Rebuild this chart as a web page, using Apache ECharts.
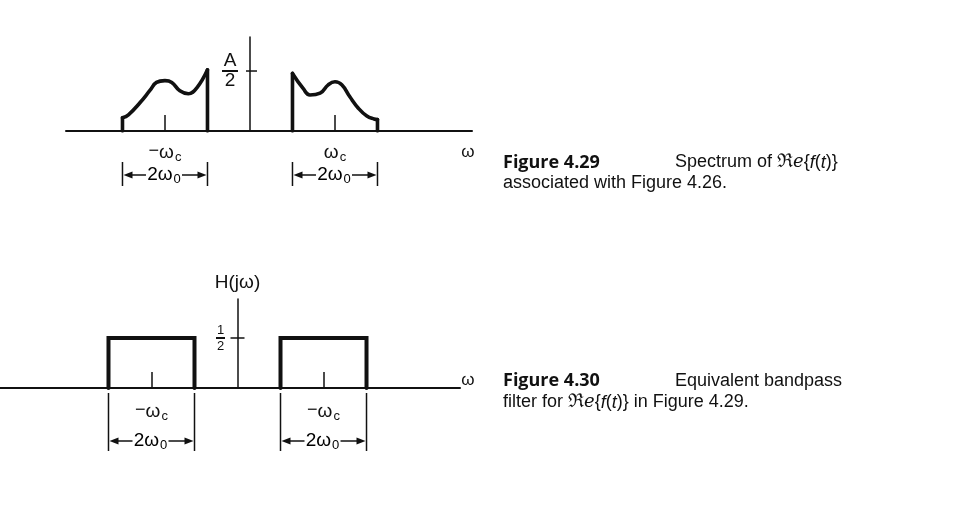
<!DOCTYPE html>
<html><head><meta charset="utf-8">
<script src="https://cdn.jsdelivr.net/npm/echarts@6/dist/echarts.min.js"></script>
<style>html,body{margin:0;padding:0;background:#fff}#c{width:954px;height:505px}</style>
</head><body><div id="c"></div>
<script>
// ---------- data ----------
const spectrumPeak = 1;          // A/2 level (top chart)
const filterGain = 0.5;          // 1/2 level (bottom chart)
const centerTicks = [-2, 2];     // -ωc, ωc
const topTickLabels = ['−ωc', 'ωc'];
const bottomTickLabels = ['−ωc', '−ωc'];
const bandsTop = [[-3, -1], [1, 3]];     // ±ωc ± ω0
const bandsBottom = [[-3, -1], [1, 3]];
const leftCurveX  = [-3, -2.86, -2.59, -2.35, -2.2, -2.0, -1.84, -1.65, -1.45, -1.25, -1];
const leftCurveY  = [0.22, 0.27, 0.47, 0.68, 0.81, 0.84, 0.81, 0.67, 0.62, 0.72, 1.02];
const rightCurveX = [1, 1.25, 1.41, 1.65, 1.84, 2.0, 2.16, 2.35, 2.55, 2.75, 2.92, 3];
const rightCurveY = [0.96, 0.71, 0.60, 0.63, 0.77, 0.82, 0.77, 0.57, 0.38, 0.25, 0.20, 0.19];
const topFracLabel = ['A', '2'];
const bottomFracLabel = ['1', '2'];
const widthLabel = '2ω0';
const axisName = 'ω';
const filterLabel = 'H(jω)';

// ---------- styling helpers ----------
const INK = '#111';
const FONT = '"Liberation Sans", Arial, sans-serif';
const symRich = {
  m: {fontFamily: FONT, fontSize: 18, color: INK, verticalAlign: 'top', lineHeight: 7},
  w: {fontFamily: FONT, fontSize: 19, color: INK, lineHeight: 22},
  s: {fontFamily: FONT, fontSize: 13, color: INK, verticalAlign: 'bottom', lineHeight: 13, padding: [0, 0, 0, 1]}
};
function richSym(s) {
  let out = '', body = s;
  if (s[0] === '−') { out += '{m|−}'; body = s.slice(1); }
  return out + '{w|' + body.slice(0, -1) + '}{s|' + body.slice(-1) + '}';
}
function lineSeries(data, xi, width, smooth) {
  return {type: 'line', xAxisIndex: xi, yAxisIndex: xi, data: data, smooth: smooth || false,
    symbol: 'none', silent: true, animation: false,
    lineStyle: {color: INK, width: width, cap: 'round', join: smooth ? 'round' : 'miter'}};
}
function dimSeries(bands, xi, barTop, barBot, arrowY) {
  return {
    type: 'custom', xAxisIndex: xi, yAxisIndex: xi, data: bands, silent: true, animation: false,
    encode: {x: [0, 1]},
    renderItem: function (params, api) {
      const a = api.coord([api.value(0), 0]);
      const b = api.coord([api.value(1), 0]);
      const y0 = a[1], ya = y0 + arrowY, mid = (a[0] + b[0]) / 2, ht = 19;
      const ls = {stroke: INK, lineWidth: 1.5};
      return {type: 'group', children: [
        {type: 'line', shape: {x1: a[0], y1: y0 + barTop, x2: a[0], y2: y0 + barBot}, style: ls},
        {type: 'line', shape: {x1: b[0], y1: y0 + barTop, x2: b[0], y2: y0 + barBot}, style: ls},
        {type: 'line', shape: {x1: a[0] + 4, y1: ya, x2: mid - ht, y2: ya}, style: ls},
        {type: 'line', shape: {x1: mid + ht - 2, y1: ya, x2: b[0] - 4, y2: ya}, style: ls},
        {type: 'polygon', shape: {points: [[a[0] + 1, ya], [a[0] + 10, ya - 3.5], [a[0] + 10, ya + 3.5]]}, style: {fill: INK}},
        {type: 'polygon', shape: {points: [[b[0] - 1, ya], [b[0] - 10, ya - 3.5], [b[0] - 10, ya + 3.5]]}, style: {fill: INK}},
        {type: 'text', x: mid - 1, y: ya, style: {
          text: '{w|' + widthLabel.slice(0, -1) + '}{s|' + widthLabel.slice(-1) + '}',
          rich: symRich, align: 'center', verticalAlign: 'middle', textAlign: 'center', textVerticalAlign: 'middle'}}
      ]};
    }
  };
}
// tick crossing the vertical axis at a level, with its fraction label to the left
function crossTick(level, xi, left, right, frac, labelDx, fs, barW, lh) {
  return {
    type: 'custom', xAxisIndex: xi, yAxisIndex: xi, data: [[0, level]], silent: true, animation: false,
    renderItem: function (params, api) {
      const p = api.coord([api.value(0), api.value(1)]);
      return {type: 'group', children: [
        {type: 'line', shape: {x1: p[0] - left, y1: p[1], x2: p[0] + right, y2: p[1]}, style: {stroke: INK, lineWidth: 1.5}},
        {type: 'text', x: p[0] - labelDx, y: p[1], style: {
          text: '{n|' + frac[0] + '}\n{bar| }\n{d|' + frac[1] + '}',
          align: 'center', verticalAlign: 'middle', textAlign: 'center', textVerticalAlign: 'middle',
          rich: {
            n: {fontFamily: FONT, fontSize: fs, fill: INK, color: INK, lineHeight: lh, align: 'center'},
            bar: {width: barW, height: 2, lineHeight: 4, backgroundColor: INK, align: 'center'},
            d: {fontFamily: FONT, fontSize: fs, fill: INK, color: INK, lineHeight: lh, align: 'center'}
          }}}
      ]};
    }
  };
}
// a label anchored to a data point with a pixel offset
function anchorText(pt, xi, text, dx, dy, fs) {
  return {
    type: 'custom', xAxisIndex: xi, yAxisIndex: xi, data: [pt], silent: true, animation: false,
    renderItem: function (params, api) {
      const p = api.coord([api.value(0), api.value(1)]);
      return {type: 'text', x: p[0] + dx, y: p[1] + dy, style: {text: text, fontFamily: FONT, fontSize: fs, fill: INK,
        align: 'center', verticalAlign: 'middle', textAlign: 'center', textVerticalAlign: 'middle'}};
    }
  };
}

const TOP_X = [-4.329, 5.224], BOT_X = [-5.523, 5.174];
const TOP_YMAX = 1.567, BOT_YMAX = 0.89;

const series = [];
// top spectrum
series.push(lineSeries(leftCurveX.map((x, i) => [x, leftCurveY[i]]), 0, 3.6, 0.45));
series.push(lineSeries([[leftCurveX[0], 0], [leftCurveX[0], leftCurveY[0]]], 0, 3.6));
series.push(lineSeries([[leftCurveX[leftCurveX.length - 1], leftCurveY[leftCurveY.length - 1]], [leftCurveX[leftCurveX.length - 1], 0]], 0, 3.6));
series.push(lineSeries(rightCurveX.map((x, i) => [x, rightCurveY[i]]), 0, 3.6, 0.45));
series.push(lineSeries([[rightCurveX[0], 0], [rightCurveX[0], rightCurveY[0]]], 0, 3.6));
series.push(lineSeries([[rightCurveX[rightCurveX.length - 1], rightCurveY[rightCurveY.length - 1]], [rightCurveX[rightCurveX.length - 1], 0]], 0, 3.6));
series.push(crossTick(spectrumPeak, 0, 4, 7, topFracLabel, 20, 19, 16, 16));
series.push(dimSeries(bandsTop, 0, 31, 55, 44));
series.push(anchorText([TOP_X[1], 0], 0, axisName, -4, 21, 17));
// bottom filter
bandsBottom.forEach(b => series.push(lineSeries([[b[0], 0], [b[0], filterGain], [b[1], filterGain], [b[1], 0]], 1, 4)));
series.push(crossTick(filterGain, 1, 7, 7, bottomFracLabel, 17, 13, 9, 12));
series.push(dimSeries(bandsBottom, 1, 5, 63, 53));
series.push(anchorText([BOT_X[1], 0], 1, axisName, 8, -8, 17));
series.push(anchorText([0, BOT_YMAX], 1, filterLabel, 0, -16, 19));

function xAxisCfg(gi, ext, labels, margin) {
  return {
    type: 'value', gridIndex: gi, min: ext[0], max: ext[1],
    axisLine: {onZero: false, lineStyle: {color: INK, width: 2}},
    axisTick: {show: true, customValues: centerTicks, inside: true, length: 16, lineStyle: {color: INK, width: 1.5}},
    axisLabel: {show: true, customValues: centerTicks, margin: margin, rich: symRich,
      formatter: v => richSym(labels[centerTicks.indexOf(v)] || '')},
    splitLine: {show: false}
  };
}
function yAxisCfg(gi, max) {
  return {
    type: 'value', gridIndex: gi, min: 0, max: max, position: 'left',
    axisLine: {onZero: true, lineStyle: {color: INK, width: 1.5}},
    axisTick: {show: false}, axisLabel: {show: false}, splitLine: {show: false}
  };
}

const capBold = {fontFamily: '"Open Sans", sans-serif', fontWeight: 'bold', fontSize: 18, color: INK, width: 172};
const capRich = {
  b: capBold,
  r: {fontFamily: FONT, fontSize: 18, color: INK},
  fr: {fontFamily: '"DejaVu Serif", serif', fontSize: 19, color: INK},
  fe: {fontFamily: '"DejaVu Serif", serif', fontStyle: 'italic', fontSize: 18, color: INK},
  it: {fontFamily: FONT, fontStyle: 'italic', fontSize: 18, color: INK}
};

const chart = echarts.init(document.getElementById('c'), null, {renderer: 'canvas'});
chart.setOption({
  backgroundColor: '#fff',
  animation: false,
  grid: [
    {left: 66, top: 37, width: 406, height: 94, containLabel: false, outerBoundsMode: 'none'},
    {left: 0, top: 299, width: 460, height: 89, containLabel: false, outerBoundsMode: 'none'}
  ],
  xAxis: [
    xAxisCfg(0, TOP_X, topTickLabels, 11),
    xAxisCfg(1, BOT_X, bottomTickLabels, 13)
  ],
  yAxis: [yAxisCfg(0, TOP_YMAX), yAxisCfg(1, BOT_YMAX)],
  series: series,
  graphic: [
    {type: 'text', left: 503, top: 153, style: {
      text: '{b|Figure 4.29}{r|Spectrum of }{fr|ℜ}{fe|e}{r|{}{it|f}{r|(}{it|t}{r|)}}',
      fontFamily: FONT, fontSize: 18, fill: INK, rich: capRich}},
    {type: 'text', left: 503, top: 174, style: {text: 'associated with Figure 4.26.', fontFamily: FONT, fontSize: 18, fill: INK}},
    {type: 'text', left: 503, top: 372, style: {
      text: '{b|Figure 4.30}{r|Equivalent bandpass}',
      fontFamily: FONT, fontSize: 18, fill: INK, rich: capRich}},
    {type: 'text', left: 503, top: 393, style: {
      text: 'filter for {fr|ℜ}{fe|e}{r|{}{it|f}{r|(}{it|t}{r|)}} in Figure 4.29.',
      fontFamily: FONT, fontSize: 18, fill: INK, rich: capRich}}
  ]
});
</script>
</body></html>
